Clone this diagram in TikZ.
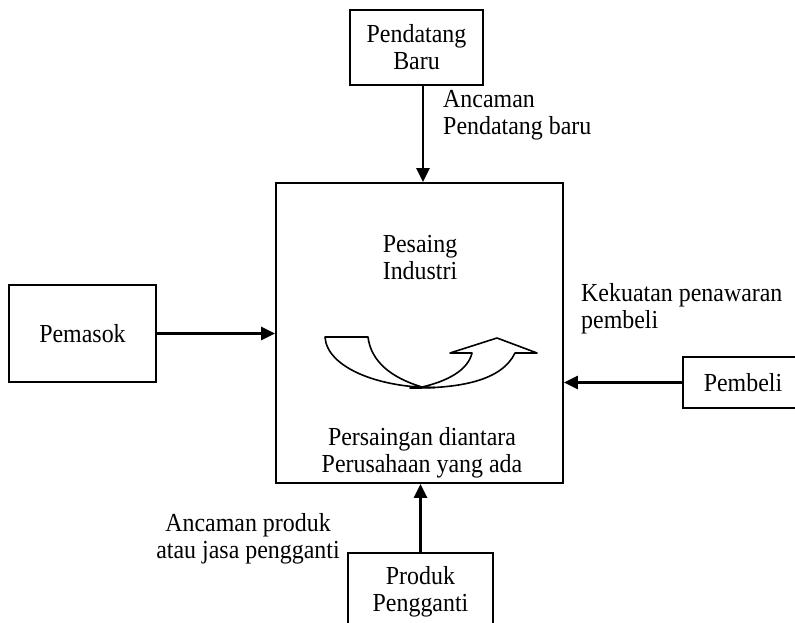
\documentclass[tikz,border=0pt]{standalone}
\usepackage{fontspec}
\setmainfont{Liberation Serif}[FakeStretch=0.92]
\usetikzlibrary{arrows.meta}
\begin{document}
\begin{tikzpicture}[x=1pt,y=-1pt,
  every node/.style={font=\fontsize{26}{27}\selectfont, inner sep=0pt},
  box/.style={draw, line width=1.8pt, align=center},
  lbl/.style={align=left, anchor=west},
  force/.style={line width=2.4pt, -{Triangle[length=14pt,width=13pt]}},
  swirl/.style={line width=1.6pt, line join=round}]
\useasboundingbox (0,0) rectangle (795,622);

% the five forces
\node[box, minimum width=133pt, minimum height=75pt] (pend) at (416.5,47.5) {Pendatang\\Baru};
\node[box, minimum width=287pt, minimum height=300pt] (main) at (419.5,333) {};
\node[box, minimum width=147pt, minimum height=97pt] (pem) at (82.5,333.5) {Pemasok};
\node[box, minimum width=120pt, minimum height=51pt] (beli) at (743,382.5) {Pembeli};
\node[box, minimum width=145pt, minimum height=78pt] (prod) at (420.5,592) {Produk\\Pengganti};

% texts inside the central box
\node[align=center] (pes) at (420,258) {Pesaing\\Industri};
\node[align=center] (persa) at (422,453) {Persaingan diantara\\Perusahaan yang ada};

% labels of the connectors
\node[lbl] (anc) at (443,115) {Ancaman\\Pendatang baru};
\node[lbl] (kek) at (581,309) {Kekuatan penawaran\\pembeli};
\node[align=center] (sub) at (248,539) {Ancaman produk\\atau jasa pengganti};

% connectors
\coordinate (pendout) at ([xshift=6.5pt]pend.south);
\draw[force] (pendout) -- (pendout |- main.north);
\draw[force] (pem.east) -- (pem.east -| main.west);
\draw[force] (beli.west) -- (beli.west -| main.east);
\draw[force] (prod.north) -- (prod.north |- main.south);

% rivalry swirl
\draw[swirl] (325,337) -- (368,337)
  .. controls (371,362) and (392,378) .. (422,387)
  -- (435,387.5)
  .. controls (380,388) and (327,368) .. (325,337) -- cycle;
\draw[swirl] (422,387)
  .. controls (448,381) and (468,370) .. (472,353)
  -- (450,353) -- (497,338) -- (537,353) -- (515,353)
  .. controls (502,380) and (462,388.5) .. (410,388) -- cycle;
\end{tikzpicture}
\end{document}
